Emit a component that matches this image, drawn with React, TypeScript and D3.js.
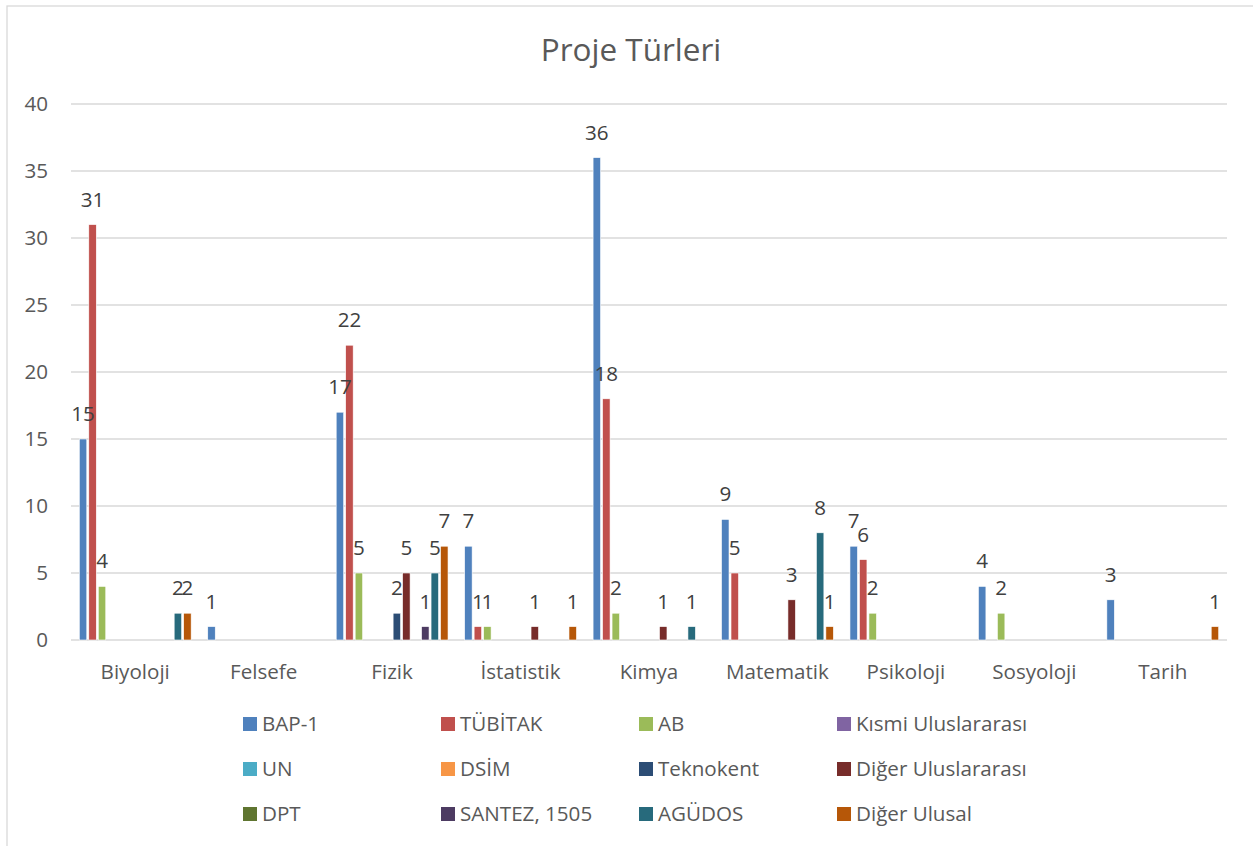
import React from "react";
import * as d3 from "d3";

const categories = [
  "Biyoloji",
  "Felsefe",
  "Fizik",
  "İstatistik",
  "Kimya",
  "Matematik",
  "Psikoloji",
  "Sosyoloji",
  "Tarih",
];

const seriesNames = [
  "BAP-1",
  "TÜBİTAK",
  "AB",
  "Kısmi Uluslararası",
  "UN",
  "DSİM",
  "Teknokent",
  "Diğer Uluslararası",
  "DPT",
  "SANTEZ, 1505",
  "AGÜDOS",
  "Diğer Ulusal",
];

const bap1 = [15, 1, 17, 7, 36, 9, 7, 4, 3];
const tubitak = [31, 0, 22, 1, 18, 5, 6, 0, 0];
const ab = [4, 0, 5, 1, 2, 0, 2, 2, 0];
const kismiUluslararasi = [0, 0, 0, 0, 0, 0, 0, 0, 0];
const un = [0, 0, 0, 0, 0, 0, 0, 0, 0];
const dsim = [0, 0, 0, 0, 0, 0, 0, 0, 0];
const teknokent = [0, 0, 2, 0, 0, 0, 0, 0, 0];
const digerUluslararasi = [0, 0, 5, 1, 1, 3, 0, 0, 0];
const dpt = [0, 0, 0, 0, 0, 0, 0, 0, 0];
const santez = [0, 0, 1, 0, 0, 0, 0, 0, 0];
const agudos = [2, 0, 5, 0, 1, 8, 0, 0, 0];
const digerUlusal = [2, 0, 7, 1, 0, 1, 0, 0, 1];

const yTicks = [0, 5, 10, 15, 20, 25, 30, 35, 40];

const colors = [
  "#4F81BD",
  "#C0504D",
  "#9BBB59",
  "#8064A2",
  "#4BACC6",
  "#F79646",
  "#2C4D75",
  "#772C2A",
  "#5F7530",
  "#4D3B62",
  "#276A7C",
  "#B65708",
];

const values = [
  bap1,
  tubitak,
  ab,
  kismiUluslararasi,
  un,
  dsim,
  teknokent,
  digerUluslararasi,
  dpt,
  santez,
  agudos,
  digerUlusal,
];

const W = 1253;
const H = 846;
const FONT = "'Open Sans', 'Noto Sans', sans-serif";
const FS = 20.6;

export default function App() {
  const x = d3.scaleBand().domain(categories).range([71, 1227]);
  const xs = d3
    .scaleBand()
    .domain(seriesNames)
    .range([0, x.bandwidth()])
    .paddingInner(0.21)
    .paddingOuter(0.875);
  const y = d3.scaleLinear().domain([0, 40]).range([640, 104]);

  // legend: 4 columns, 3 rows
  const legendX = d3.scaleLinear().domain([0, 1]).range([243, 441]);
  const legendY = d3.scaleLinear().domain([0, 1]).range([724, 769]);

  return (
    <svg
      width={W}
      height={H}
      style={{ position: "absolute", left: 0, top: 0, background: "#fff" }}
      fontFamily={FONT}
    >
      <rect x={7} y={6} width={W + 20} height={H + 20} fill="#fff" stroke="#d9d9d9" strokeWidth={1.3} />

      <text x={631} y={61} textAnchor="middle" fontSize={31.5} fill="#595959">
        Proje Türleri
      </text>

      {/* gridlines + y labels */}
      {yTicks.map((t) => (
        <g key={t}>
          <line x1={71} x2={1227} y1={y(t)} y2={y(t)} stroke="#d9d9d9" strokeWidth={1.3} />
          <text x={48} y={y(t)} dy="0.35em" textAnchor="end" fontSize={FS} fill="#595959">
            {t}
          </text>
        </g>
      ))}

      {/* bars */}
      {values.map((vals, si) => (
        <g key={seriesNames[si]} fill={colors[si]}>
          {vals.map((v, ci) =>
            v > 0 ? (
              <rect
                key={ci}
                x={(x(categories[ci]) as number) + (xs(seriesNames[si]) as number)}
                y={y(v)}
                width={xs.bandwidth()}
                height={y(0) - y(v)}
                stroke="#fff"
                strokeWidth={0.6}
              />
            ) : null
          )}
        </g>
      ))}

      {/* data labels */}
      {values.map((vals, si) => (
        <g key={"l" + si}>
          {vals.map((v, ci) =>
            v > 0 ? (
              <text
                key={ci}
                x={(x(categories[ci]) as number) + (xs(seriesNames[si]) as number) + xs.bandwidth() / 2}
                y={y(v) - 18}
                textAnchor="middle"
                fontSize={FS}
                fill="#404040"
              >
                {v}
              </text>
            ) : null
          )}
        </g>
      ))}

      {/* category labels */}
      {categories.map((c) => (
        <text
          key={c}
          x={(x(c) as number) + x.bandwidth() / 2}
          y={679}
          textAnchor="middle"
          fontSize={FS}
          fill="#595959"
        >
          {c}
        </text>
      ))}

      {/* legend */}
      {seriesNames.map((s, i) => {
        const col = i % 4;
        const row = Math.floor(i / 4);
        const lx = legendX(col);
        const ly = legendY(row);
        return (
          <g key={s}>
            <rect x={lx} y={ly - 7} width={14} height={14} fill={colors[i]} />
            <text x={lx + 19} y={ly} dy="0.35em" fontSize={FS} fill="#595959">
              {s}
            </text>
          </g>
        );
      })}
    </svg>
  );
}
